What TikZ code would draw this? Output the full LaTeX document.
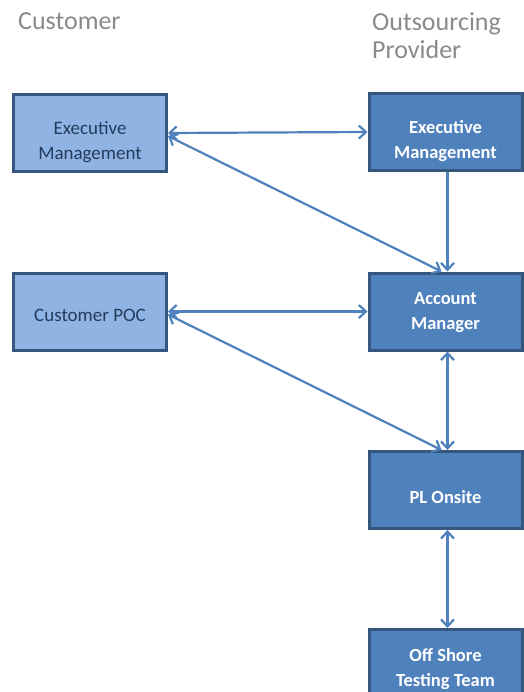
\documentclass[tikz,border=0pt]{standalone}
\usepackage{fontspec}
\setmainfont{Carlito}
\usetikzlibrary{arrows.meta, calc}

\definecolor{custfill}{HTML}{8FB4E3}
\definecolor{custtext}{HTML}{243B5E}
\definecolor{provfill}{HTML}{4F81BD}
\definecolor{boxline}{HTML}{34567F}
\definecolor{linkblue}{HTML}{4F81BD}
\definecolor{titlegrey}{HTML}{8A8A8A}

\begin{document}
\begin{tikzpicture}[
  x=1bp, y=-1bp,
  >={Straight Barb[length=7bp, width=13bp]},
  box/.style={draw=boxline, line width=3bp, minimum width=153bp, minimum height=77bp, inner sep=0pt},
  cbox/.style={box, fill=custfill},
  pbox/.style={box, fill=provfill},
  ctext/.style={text=custtext, align=center, inner sep=0pt, font=\fontsize{19bp}{25bp}\selectfont},
  ptext/.style={text=white, align=center, inner sep=0pt, font=\fontsize{18.5bp}{25bp}\selectfont\bfseries},
  link/.style={draw=linkblue, line width=2.2bp},
  title/.style={text=titlegrey, font=\fontsize{26bp}{28bp}\selectfont, align=left, inner sep=0pt, anchor=north west}
]
\clip (0,0) rectangle (524,692);
\fill[white] (0,0) rectangle (524,692);

% Column headings
\node[title] (custtitle) at (18,12) {Customer};
\node[title] (provtitle) at (372,12) {Outsourcing\\Provider};

% Customer side
\node[cbox] (cexec) at (90,133) {};
\node[ctext] (cexectext) at ($(cexec)+(0,9)$) {Executive\\Management};
\node[cbox] (cpoc) at (90,311.5) {};
\node[ctext] (cpoctext) at ($(cpoc)+(0,4)$) {Customer POC};

% Provider side
\node[pbox] (pexec) at (445.5,132) {};
\node[ptext] (pexectext) at ($(pexec)+(0,9)$) {Executive\\Management};
\node[pbox] (acct) at (445.5,311.5) {};
\node[ptext] (accttext) at ($(acct)+(0,1.5)$) {Account\\Manager};
\node[pbox] (onsite) at (445.5,490) {};
\node[ptext] (onsitetext) at ($(onsite)+(0,7)$) {PL Onsite};
\node[pbox] (offshore) at (445.5,668) {};
\node[ptext] (offshoretext) at ($(offshore)+(0,1.5)$) {Off Shore\\Testing Team};

% Links
\draw[link, <->] (cexec.east) -- (pexec.west);
\draw[link, <->] ([yshift=-3bp]cexec.east) -- ([xshift=-4bp]acct.north);
\draw[link, ->] ([xshift=2bp]pexec.south) -- ([xshift=2bp]acct.north);
\draw[link, <->] (cpoc.east) -- (acct.west);
\draw[link, <->] ([yshift=-3bp]cpoc.east) -- ([xshift=-4bp]onsite.north);
\draw[link, <->] ([xshift=2bp]acct.south) -- ([xshift=2bp]onsite.north);
\draw[link, <->] ([xshift=2bp]onsite.south) -- ([xshift=2bp]offshore.north);

\end{tikzpicture}
\end{document}
